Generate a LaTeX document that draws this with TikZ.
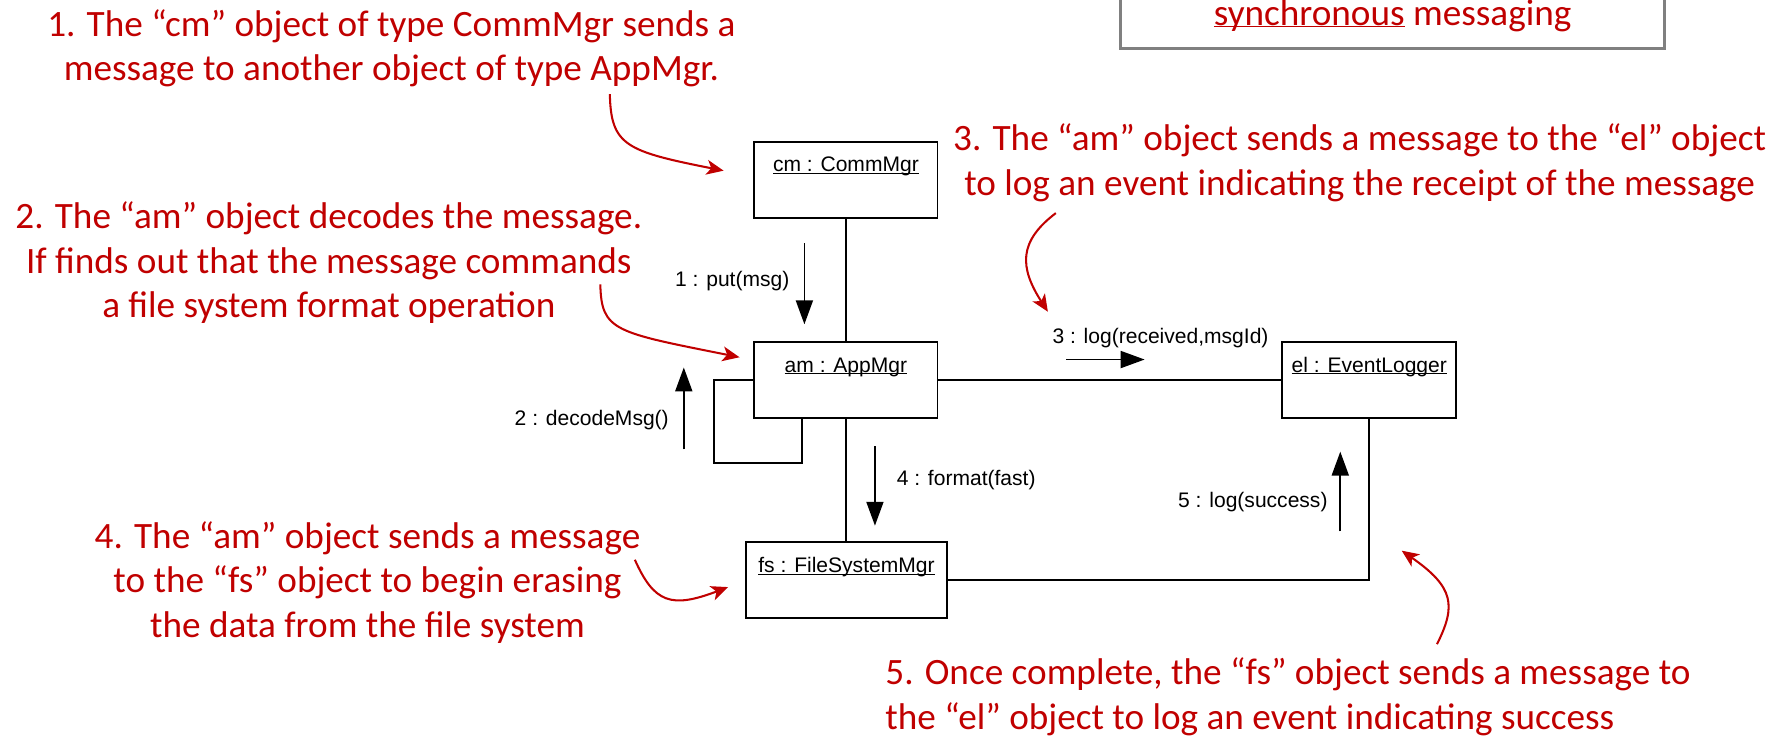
\documentclass[tikz,border=0pt]{standalone}
\usepackage{fontspec}
\usepackage{xcolor}
\usepackage{tikz}
\usetikzlibrary{arrows.meta}
\setmainfont{Liberation Sans}
\newfontfamily\notefont{Carlito}
\definecolor{N1}{HTML}{C00000}
\definecolor{B1}{HTML}{808080}
\tikzset{
  obj/.style={draw, line width=1.6pt, inner xsep=0pt, inner ysep=0pt, text height=26.5pt, text depth=40.5pt, font=\fontsize{18.5}{22}\selectfont},
  lbl/.style={inner sep=0pt, font=\fontsize{18.5}{22}\selectfont},
  assoc/.style={line width=1.6pt},
  msg/.style={line width=1.4pt, -{Triangle[length=21pt, width=15pt]}},
  note/.style={inner sep=0pt, align=center, text=N1, font=\notefont\fontsize{32.7}{39}\selectfont},
  notearrow/.style={N1, line width=1.8pt, -{Stealth[length=15pt, width=13pt, inset=4pt]}},
}
\begin{document}
\begin{tikzpicture}[x=1pt, y=-1pt]%
\useasboundingbox (0,0) rectangle (1568,650);%
\draw[line width=2.5pt, B1] (985,-5) -- (985,43) -- (1463,43) -- (1463,-5);%
\node[note, anchor=base] (sync) at (1224,22) {\underline{\smash{synchronous}} messaging};%
\node[obj, minimum width=161pt] (cm) at (743.5,158) {\underline{\smash{cm : CommMgr}}};%
\node[obj, minimum width=161pt] (am) at (743.5,334) {\underline{\smash{am : AppMgr}}};%
\node[obj, minimum width=153pt] (el) at (1203.5,334) {\underline{\smash{el : EventLogger}}};%
\node[obj, minimum width=176pt] (fs) at (744,510) {\underline{\smash{fs : FileSystemMgr}}};%
\draw[assoc] (cm) -- (am);%
\draw[assoc] (am) -- (el);%
\draw[assoc] (am.south) -- (am.south |- fs.north);%
\draw[assoc] (fs.east) -| (el.south);%
\draw[assoc] (am.west) -- ++(-35,0) |- ([shift={(-38.5,38.5)}]am.south) -- ([xshift=-38.5pt]am.south);%
\coordinate (m1) at (707,214);%
\draw[msg] (m1) -- ++(0,71);%
\node[lbl, anchor=base east] (m1l) at (694,252) {1 : put(msg)};%
\coordinate (m2) at (601,395);%
\draw[msg] (m2) -- ++(0,-72);%
\node[lbl, anchor=base east] (m2l) at (588,374) {2 : decodeMsg()};%
\coordinate (m3) at (937,316);%
\draw[msg] (m3) -- ++(69,0);%
\node[lbl, anchor=base] (m3l) at (1020,302) {3 : log(received,msgId)};%
\coordinate (m4) at (769,392);%
\draw[msg] (m4) -- ++(0,70);%
\node[lbl, anchor=base west] (m4l) at (788,427) {4 : format(fast)};%
\coordinate (m5) at (1178,467);%
\draw[msg] (m5) -- ++(0,-70);%
\node[lbl, anchor=base east] (m5l) at (1167,446) {5 : log(success)};%
\node[note] (note1) at (344,42.5) {1. The “cm” object of type CommMgr sends a\\message to another object of type AppMgr.};%
\node[note] (note2) at (289,231) {2. The “am” object decodes the message.\\If finds out that the message commands\\a file system format operation};%
\node[note] (note3) at (1195,143) {3. The “am” object sends a message to the “el” object\\to log an event indicating the receipt of the message};%
\node[note] (note4) at (323,512) {4. The “am” object sends a message\\to the “fs” object to begin erasing\\the data from the file system};%
\node[note, align=left, anchor=west] (note5) at (778,612.5) {5. Once complete, the “fs” object sends a message to\\the “el” object to log an event indicating success};%
\coordinate (tip1) at (636,150);%
\draw[notearrow] ([shift={(192,6)}]note1.south) .. controls +(1,45) and +(-86,-17) .. (tip1);%
\coordinate (tip2) at (650,314);%
\draw[notearrow] ([shift={(-37,19)}]note2.east) .. controls +(1,41) and +(-110,-22) .. (tip2);%
\coordinate (tip3) at (921,274);%
\draw[notearrow] ([shift={(-267,10)}]note3.south) .. controls +(-33,25) and +(-25,-39) .. (tip3);%
\coordinate (tip4) at (640,516);%
\draw[notearrow] ([shift={(-5,-20)}]note4.east) .. controls +(17,38) and +(-50,19) .. (tip4);%
\coordinate (tip5) at (1232,484);%
\draw[notearrow] ([shift={(485,-12)}]note5.north west) .. controls +(17,-34) and +(46,32) .. (tip5);%
\end{tikzpicture}
\end{document}
